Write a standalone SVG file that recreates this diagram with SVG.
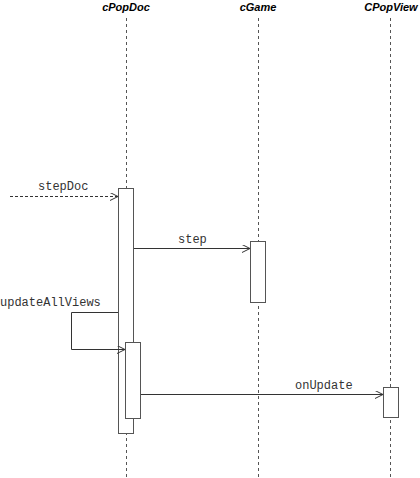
<svg xmlns="http://www.w3.org/2000/svg" width="420" height="478" viewBox="0 0 420 478">
<style>
.hdr{font-family:"Liberation Sans",Arial,sans-serif;font-size:11px;font-weight:bold;font-style:italic;fill:#000;text-anchor:middle}
.lbl{font-family:"Liberation Mono","Courier New",monospace;font-size:12px;fill:#333}
.life{stroke:#555;stroke-width:1;stroke-dasharray:3,3;fill:none}
.act{fill:#fff;stroke:#555;stroke-width:1}
.msg{stroke:#333;stroke-width:1;fill:none}
.dash{stroke-dasharray:3,2}
</style>
<defs>
<marker id="open" markerWidth="10" markerHeight="10" refX="8" refY="4" orient="auto" markerUnits="userSpaceOnUse">
<path d="M0,0 L8,4 L0,8" fill="none" stroke="#333" stroke-width="1"/>
</marker>
</defs>
<rect width="420" height="478" fill="#fff"/>
<g id="cPopDoc">
<text class="hdr" x="126" y="11">cPopDoc</text>
<line class="life" x1="126.5" y1="18" x2="126.5" y2="478"/>
<rect class="act" x="118.5" y="188.5" width="15" height="245"/>
<rect class="act" x="125.5" y="342.5" width="15" height="76"/>
</g>
<g id="cGame">
<text class="hdr" x="258" y="11">cGame</text>
<line class="life" x1="258.5" y1="18" x2="258.5" y2="478"/>
<rect class="act" x="250.5" y="241.5" width="15" height="61"/>
</g>
<g id="CPopView">
<text class="hdr" x="391" y="11">CPopView</text>
<line class="life" x1="390.5" y1="18" x2="390.5" y2="478"/>
<rect class="act" x="383.5" y="387.5" width="15" height="30"/>
</g>
<g id="connectors">
<line class="msg dash" x1="10" y1="196.5" x2="118" y2="196.5" marker-end="url(#open)"/>
<text class="lbl" x="38" y="190">stepDoc</text>
<line class="msg" x1="134" y1="248.5" x2="250" y2="248.5" marker-end="url(#open)"/>
<text class="lbl" x="178" y="243">step</text>
<polyline class="msg" points="118,312.5 71.5,312.5 71.5,349.5 125,349.5" marker-end="url(#open)"/>
<text class="lbl" x="0" y="306">updateAllViews</text>
<line class="msg" x1="141" y1="394.5" x2="383" y2="394.5" marker-end="url(#open)"/>
<text class="lbl" x="295" y="389">onUpdate</text>
</g>
</svg>
